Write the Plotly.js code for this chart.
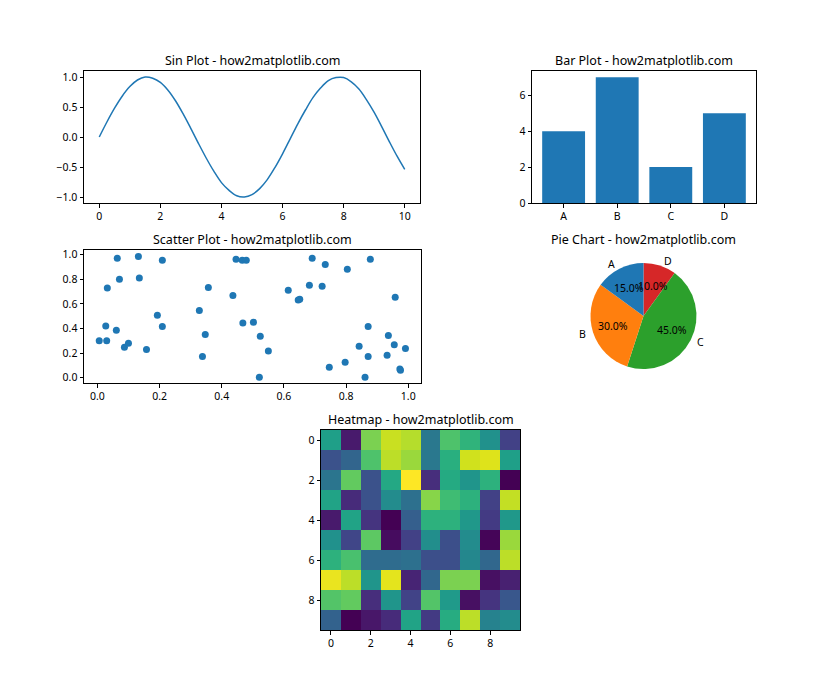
<!DOCTYPE html>
<html>
<head>
<meta charset="utf-8">
<script src="https://cdn.plot.ly/plotly-3.0.1.min.js"></script>
<style>html,body{margin:0;padding:0;background:#fff;}#chart{width:840px;height:700px;}</style>
</head>
<body>
<div id="chart"></div>
<script>
// ---- Data ----
const sinX = [0,0.25,0.5,0.75,1,1.25,1.5,1.75,2,2.25,2.5,2.75,3,3.25,3.5,3.75,4,4.25,4.5,4.75,5,5.25,5.5,5.75,6,6.25,6.5,6.75,7,7.25,7.5,7.75,8,8.25,8.5,8.75,9,9.25,9.5,9.75,10];
const sinY = [0,0.25,0.48,0.68,0.84,0.95,1.00,0.98,0.91,0.78,0.60,0.38,0.14,-0.11,-0.35,-0.57,-0.76,-0.89,-0.98,-1.00,-0.96,-0.86,-0.71,-0.51,-0.28,-0.03,0.22,0.45,0.66,0.82,0.94,0.99,0.99,0.92,0.80,0.62,0.41,0.17,-0.08,-0.32,-0.54];

const barCategories = ['A','B','C','D'];
const barValues = [4,7,2,5];

const scatterX = [0.006,0.027,0.030,0.032,0.064,0.061,0.071,0.087,0.100,0.132,0.135,0.158,0.193,0.209,0.209,0.328,0.338,0.347,0.357,0.436,0.446,0.468,0.466,0.479,0.502,0.521,0.524,0.550,0.614,0.646,0.651,0.682,0.691,0.723,0.733,0.746,0.797,0.804,0.842,0.861,0.871,0.871,0.878,0.932,0.936,0.955,0.958,0.973,0.975,0.991];
const scatterY = [0.30,0.42,0.30,0.73,0.97,0.385,0.80,0.247,0.28,0.986,0.81,0.23,0.507,0.954,0.417,0.547,0.173,0.352,0.734,0.669,0.962,0.444,0.954,0.954,0.45,0.003,0.336,0.217,0.71,0.631,0.637,0.751,0.970,0.743,0.921,0.084,0.125,0.881,0.255,0.003,0.417,0.173,0.962,0.182,0.344,0.268,0.653,0.07,0.06,0.238];

const pieLabels = ['A','B','C','D'];
const pieValues = [15,30,45,10];
const pieColors = ['#1f77b4','#ff7f0e','#2ca02c','#d62728'];

const heatmapValues = [
  [0.56,0.07,0.80,0.92,0.89,0.40,0.72,0.65,0.50,0.19],
  [0.25,0.32,0.72,0.90,0.85,0.40,0.63,0.93,0.95,0.56],
  [0.39,0.76,0.25,0.60,1.00,0.13,0.61,0.52,0.64,0.00],
  [0.58,0.12,0.25,0.48,0.37,0.82,0.69,0.64,0.19,0.91],
  [0.07,0.58,0.15,0.00,0.30,0.64,0.64,0.53,0.17,0.53],
  [0.50,0.21,0.75,0.03,0.19,0.49,0.24,0.48,0.01,0.85],
  [0.64,0.71,0.35,0.35,0.37,0.24,0.24,0.46,0.33,0.90],
  [0.97,0.90,0.52,0.96,0.10,0.33,0.80,0.80,0.04,0.09],
  [0.73,0.76,0.13,0.52,0.20,0.73,0.54,0.04,0.15,0.27],
  [0.31,0.00,0.06,0.12,0.58,0.17,0.62,0.90,0.44,0.48]
];

const titles = ['Sin Plot - how2matplotlib.com','Bar Plot - how2matplotlib.com','Scatter Plot - how2matplotlib.com','Pie Chart - how2matplotlib.com','Heatmap - how2matplotlib.com'];

// ---- Layout helpers ----
const W = 840, H = 700;
const px = (a,b) => [a/W, b/W];
const py = (top,bottom) => [1 - bottom/H, 1 - top/H];
const FONT = 'Noto Sans, DejaVu Sans, sans-serif';
const BLUE = '#1f77b4';

function axis(extra){
  return Object.assign({
    showline:true, mirror:true, linecolor:'#000', linewidth:1,
    ticks:'outside', ticklen:3.5, tickwidth:1, tickcolor:'#000',
    showgrid:false, zeroline:false, fixedrange:true,
    tickfont:{family:FONT,size:10.5,color:'#000'}
  }, extra);
}

const doms = {
  sin:{x:px(84,420), y:py(71,203)},
  bar:{x:px(532,756), y:py(71,203)},
  sc:{x:px(84,421), y:py(250,383)},
  pie:{x:px(590,697), y:py(263,369)},
  hm:{x:px(321,520), y:py(430,630)}
};

// Pie drawn clockwise from 12 o'clock in reversed order == matplotlib counterclockwise from 90deg
const pieLabelsRev = pieLabels.slice().reverse();
const pieValuesRev = pieValues.slice().reverse();
const pieColorsRev = pieColors.slice().reverse();

const data = [
  {type:'scatter', mode:'lines', x:sinX, y:sinY, line:{color:BLUE,width:1.5,shape:'spline'}, xaxis:'x', yaxis:'y', hoverinfo:'skip'},
  {type:'bar', x:barCategories, y:barValues, marker:{color:BLUE}, xaxis:'x2', yaxis:'y2', hoverinfo:'skip'},
  {type:'scatter', mode:'markers', x:scatterX, y:scatterY, marker:{color:BLUE,size:7}, xaxis:'x3', yaxis:'y3', hoverinfo:'skip'},
  {type:'pie', labels:pieLabelsRev, values:pieValuesRev, marker:{colors:pieColorsRev, line:{width:0}}, sort:false, direction:'clockwise', rotation:0,
   textinfo:'none', domain:doms.pie, hoverinfo:'skip', showlegend:false},
  {type:'heatmap', z:heatmapValues, colorscale:'Viridis', zmin:0, zmax:1, showscale:false, xaxis:'x4', yaxis:'y4', hoverinfo:'skip'}
];

const annotations = [
  [doms.sin, titles[0]],[doms.bar, titles[1]],[doms.sc, titles[2]],[{x:doms.pie.x, y:doms.sc.y}, titles[3]],[doms.hm, titles[4]]
].map(([d,t]) => ({
  text:t, xref:'paper', yref:'paper', x:(d.x[0]+d.x[1])/2, y:d.y[1], xanchor:'center', yanchor:'bottom',
  yshift:0, showarrow:false, font:{family:FONT,size:12.5,color:'#000'}
}));

// Pie texts: percentages at 0.6 r, labels at 1.1 r (matplotlib style)
(function(){
  const cxPx = (doms.pie.x[0]+doms.pie.x[1])/2*W;
  const cyPx = (1-(doms.pie.y[0]+doms.pie.y[1])/2)*H;
  const r = Math.min((doms.pie.x[1]-doms.pie.x[0])*W, (doms.pie.y[1]-doms.pie.y[0])*H)/2;
  const total = pieValues.reduce((a,b)=>a+b,0);
  let start = 90;
  pieValues.forEach((v,i)=>{
    const sweep = v/total*360;
    const mid = (start + sweep/2) * Math.PI/180;
    start += sweep;
    const c = Math.cos(mid), s = Math.sin(mid);
    annotations.push({
      text:(v/total*100).toFixed(1)+'%', xref:'paper', yref:'paper',
      x:(cxPx + 0.6*r*c)/W, y:1-(cyPx - 0.6*r*s)/H, xanchor:'center', yanchor:'middle',
      showarrow:false, font:{family:FONT,size:10.5,color:'#000'}
    });
    annotations.push({
      text:pieLabels[i], xref:'paper', yref:'paper',
      x:(cxPx + 1.1*r*c)/W, y:1-(cyPx - 1.1*r*s)/H, xanchor: c>0 ? 'left':'right', yanchor:'middle',
      showarrow:false, font:{family:FONT,size:10.5,color:'#000'}
    });
  });
})();

const layout = {
  width:W, height:H, margin:{l:0,r:0,t:0,b:0}, paper_bgcolor:'#fff', plot_bgcolor:'#fff',
  showlegend:false, bargap:0.2, annotations:annotations,
  xaxis: axis({domain:doms.sin.x, anchor:'y', range:[-0.5,10.5], tickvals:[0,2,4,6,8,10]}),
  yaxis: axis({domain:doms.sin.y, anchor:'x', range:[-1.1,1.1], tickvals:[-1,-0.5,0,0.5,1], tickformat:'.1f'}),
  xaxis2: axis({domain:doms.bar.x, anchor:'y2', range:[-0.59,3.59]}),
  yaxis2: axis({domain:doms.bar.y, anchor:'x2', range:[0,7.35], tickvals:[0,2,4,6]}),
  xaxis3: axis({domain:doms.sc.x, anchor:'y3', range:[-0.043,1.041], tickvals:[0,0.2,0.4,0.6,0.8,1], tickformat:'.1f'}),
  yaxis3: axis({domain:doms.sc.y, anchor:'x3', range:[-0.043,1.038], tickvals:[0,0.2,0.4,0.6,0.8,1], tickformat:'.1f'}),
  xaxis4: axis({domain:doms.hm.x, anchor:'y4', range:[-0.5,9.5], tickvals:[0,2,4,6,8]}),
  yaxis4: axis({domain:doms.hm.y, anchor:'x4', range:[9.5,-0.5], tickvals:[0,2,4,6,8]})
};

Plotly.newPlot('chart', data, layout, {displayModeBar:false, staticPlot:true});
</script>
</body>
</html>
